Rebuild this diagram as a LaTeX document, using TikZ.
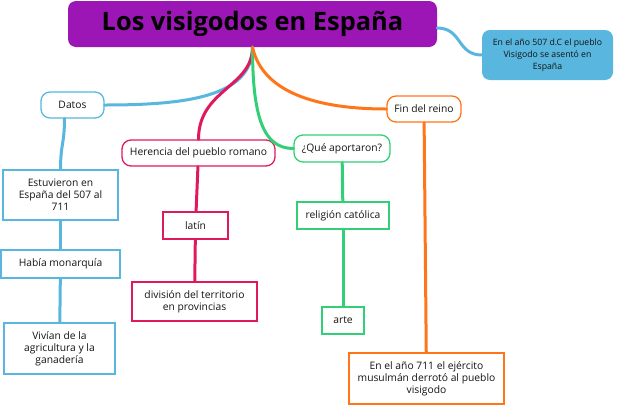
\documentclass[tikz,border=0pt]{standalone}
\usepackage{fontspec}
\setmainfont{Open Sans}
\usepackage{tikz}
\definecolor{plum}{HTML}{9C15B5}
\definecolor{sky}{HTML}{58B6DF}
\definecolor{crimson}{HTML}{E0195F}
\definecolor{leaf}{HTML}{33CF76}
\definecolor{tangerine}{HTML}{FF761A}
\definecolor{ink}{HTML}{141414}

\begin{document}
\begin{tikzpicture}[x=1pt,y=-1pt,line cap=round,
  txt/.style={font=\fontsize{10.3}{12}\selectfont,text=ink,align=center,inner sep=0pt},
  branch/.style={txt,draw=#1,fill=white,line width=1.3pt,rounded corners=9pt},
  leafbox/.style={txt,draw=#1,fill=white,line width=1.3pt},
  link/.style={#1,line width=3pt}]
  \useasboundingbox (0,0) rectangle (640,405);
  % central topic
  \node[fill=plum,rounded corners=8pt,minimum width=369pt,minimum height=46pt,inner sep=0pt,
    font=\fontsize{25.4}{28}\selectfont\bfseries,text=black] (title) at (252.5,24) {Los visigodos en España};
  \node[txt,fill=sky,rounded corners=8pt,minimum width=131pt,minimum height=50pt,
    font=\fontsize{8.7}{12}\selectfont] (asiento) at (547.5,55) {En el año 507 d.C el pueblo\\Visigodo se asentó en\\España};
  % branches
  \node[branch=sky,minimum width=63pt,minimum height=26pt] (datos) at (72.5,105) {Datos};
  \node[branch=tangerine,minimum width=74pt,minimum height=26pt] (fin) at (424,109) {Fin del reino};
  \node[branch=crimson,minimum width=153pt,minimum height=26pt] (herencia) at (198.5,153) {Herencia del pueblo romano};
  \node[branch=leaf,minimum width=96pt,minimum height=27pt] (aporte) at (342,148.5) {¿Qué aportaron?};
  % leaves
  \node[leafbox=sky,minimum width=115pt,minimum height=50pt] (estuvieron) at (60.5,195) {Estuvieron en\\España del 507 al\\711};
  \node[leafbox=sky,minimum width=119pt,minimum height=28pt] (monarquia) at (60.5,264) {Había monarquía};
  \node[leafbox=sky,minimum width=111pt,minimum height=51pt] (vivian) at (59.5,348.5) {Vivían de la\\agricultura y la\\ganadería};
  \node[leafbox=crimson,minimum width=65pt,minimum height=27pt] (latin) at (195.5,225.5) {latín};
  \node[leafbox=crimson,minimum width=125pt,minimum height=39pt] (division) at (194.5,301.5) {división del territorio\\en provincias};
  \node[leafbox=leaf,minimum width=92pt,minimum height=27pt] (religion) at (343,215.5) {religión católica};
  \node[leafbox=leaf,minimum width=42pt,minimum height=27pt] (arte) at (343,320.5) {arte};
  \node[leafbox=tangerine,minimum width=155pt,minimum height=51pt] (derrota) at (426.5,378.5) {En el año 711 el ejército\\musulmán derrotó al pueblo\\visigodo};
  % connectors
  \draw[link=sky] (title.east) ++(0,4) .. controls +(25,0) and +(-25,0) .. (asiento.west);
  \draw[link=sky] (title.south) .. controls +(0,50) and +(80,0) .. (datos.east);
  \draw[link=crimson] (title.south) .. controls +(0,40) and +(0,-50) .. (herencia.north);
  \draw[link=leaf] (title.south) .. controls +(0,70) and +(-30,0) .. (aporte.west);
  \draw[link=tangerine] (title.south) .. controls +(10,45) and +(-70,0) .. (fin.west);
  \draw[link=sky] (datos.south) ++(-8,0) .. controls +(0,25) and +(0,-25) .. (estuvieron.north);
  \draw[link=sky] (estuvieron) -- (monarquia);
  \draw[link=sky] (monarquia) -- (vivian);
  \draw[link=crimson] (herencia) -- (latin);
  \draw[link=crimson] (latin) -- (division);
  \draw[link=leaf] (aporte) -- (religion);
  \draw[link=leaf] (religion) -- (arte);
  \draw[link=tangerine] (fin) -- (derrota);
\end{tikzpicture}
\end{document}
